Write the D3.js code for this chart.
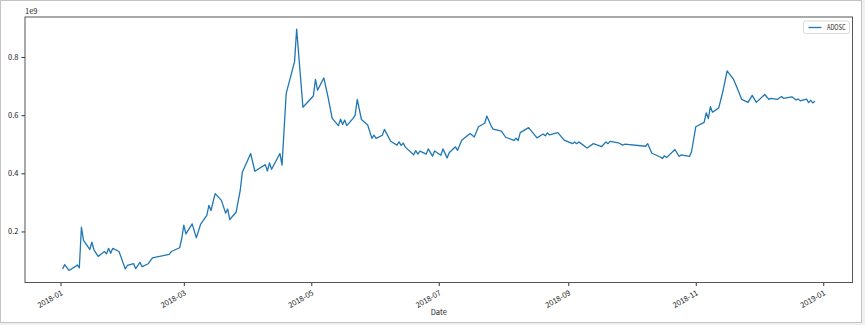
<!DOCTYPE html>
<meta charset="utf-8" />
<style>
  body {
    margin: 0px;
    padding: 0px;
    background: #f0f0f0;
  }
  svg {
    display: block;
  }
  .tick text,
  .lbl {
    font-family: "Noto Sans CJK SC", "DejaVu Sans", sans-serif;
    font-size: 7.5px;
    fill: #222;
  }
</style>

<svg width="865" height="325"></svg>

<script src="https://d3js.org/d3.v7.min.js"></script>
<script>
  // trading days
  const dates = [
    "2018-01-02", "2018-01-03", "2018-01-05", "2018-01-08", "2018-01-09", "2018-01-10", "2018-01-11", "2018-01-12",
    "2018-01-15", "2018-01-16", "2018-01-17", "2018-01-19", "2018-01-22", "2018-01-23", "2018-01-24", "2018-01-25",
    "2018-01-26", "2018-01-29", "2018-01-30", "2018-02-01", "2018-02-02", "2018-02-05", "2018-02-06", "2018-02-08",
    "2018-02-09", "2018-02-12", "2018-02-14", "2018-02-22", "2018-02-23", "2018-02-27", "2018-02-28", "2018-03-01",
    "2018-03-02", "2018-03-05", "2018-03-07", "2018-03-09", "2018-03-12", "2018-03-13", "2018-03-14", "2018-03-16",
    "2018-03-19", "2018-03-21", "2018-03-22", "2018-03-23", "2018-03-26", "2018-03-28", "2018-03-29", "2018-04-02",
    "2018-04-04", "2018-04-09", "2018-04-10", "2018-04-11", "2018-04-12", "2018-04-16", "2018-04-17", "2018-04-19",
    "2018-04-23", "2018-04-24", "2018-04-27", "2018-05-02", "2018-05-03", "2018-05-04", "2018-05-07", "2018-05-09",
    "2018-05-11", "2018-05-14", "2018-05-15", "2018-05-16", "2018-05-17", "2018-05-18", "2018-05-21", "2018-05-22",
    "2018-05-23", "2018-05-25", "2018-05-28", "2018-05-30", "2018-05-31", "2018-06-01", "2018-06-04", "2018-06-05",
    "2018-06-08", "2018-06-11", "2018-06-12", "2018-06-13", "2018-06-14", "2018-06-15", "2018-06-19", "2018-06-20",
    "2018-06-21", "2018-06-22", "2018-06-25", "2018-06-26", "2018-06-28", "2018-06-29", "2018-07-02", "2018-07-03",
    "2018-07-05", "2018-07-06", "2018-07-09", "2018-07-10", "2018-07-12", "2018-07-16", "2018-07-18", "2018-07-20",
    "2018-07-23", "2018-07-24", "2018-07-26", "2018-07-27", "2018-07-31", "2018-08-02", "2018-08-06", "2018-08-07",
    "2018-08-08", "2018-08-09", "2018-08-13", "2018-08-17", "2018-08-20", "2018-08-21", "2018-08-22", "2018-08-23",
    "2018-08-27", "2018-08-30", "2018-09-03", "2018-09-04", "2018-09-05", "2018-09-06", "2018-09-10", "2018-09-13",
    "2018-09-17", "2018-09-19", "2018-09-20", "2018-09-21", "2018-09-25", "2018-09-27", "2018-09-28", "2018-10-08",
    "2018-10-09", "2018-10-11", "2018-10-15", "2018-10-16", "2018-10-17", "2018-10-18", "2018-10-22", "2018-10-24",
    "2018-10-25", "2018-10-29", "2018-10-30", "2018-11-01", "2018-11-05", "2018-11-06", "2018-11-07", "2018-11-08",
    "2018-11-09", "2018-11-12", "2018-11-14", "2018-11-16", "2018-11-19", "2018-11-21", "2018-11-23", "2018-11-26",
    "2018-11-28", "2018-11-30", "2018-12-04", "2018-12-06", "2018-12-07", "2018-12-10", "2018-12-12", "2018-12-13",
    "2018-12-17", "2018-12-19", "2018-12-20", "2018-12-21", "2018-12-24", "2018-12-25", "2018-12-26", "2018-12-27",
    "2018-12-28"
  ];

  // ADOSC, in units of 1e9
  const adosc = [
    0.071, 0.086, 0.066, 0.079, 0.085, 0.075, 0.215, 0.169,
    0.138, 0.163, 0.137, 0.114, 0.131, 0.123, 0.142, 0.125,
    0.142, 0.131, 0.111, 0.071, 0.083, 0.089, 0.072, 0.094,
    0.079, 0.089, 0.109, 0.121, 0.131, 0.144, 0.175, 0.222,
    0.192, 0.226, 0.178, 0.224, 0.255, 0.29, 0.272, 0.33,
    0.307, 0.263, 0.277, 0.241, 0.266, 0.341, 0.404, 0.468,
    0.407, 0.43, 0.408, 0.436, 0.414, 0.468, 0.428, 0.675,
    0.784, 0.896, 0.627, 0.666, 0.723, 0.686, 0.728, 0.663,
    0.589, 0.564, 0.586, 0.568, 0.583, 0.564, 0.589, 0.6,
    0.654, 0.585, 0.566, 0.52, 0.531, 0.52, 0.531, 0.551,
    0.51, 0.497, 0.508, 0.496, 0.504, 0.49, 0.464, 0.478,
    0.466, 0.476, 0.466, 0.484, 0.459, 0.477, 0.462, 0.484,
    0.453, 0.471, 0.491, 0.479, 0.514, 0.537, 0.525, 0.56,
    0.572, 0.597, 0.564, 0.552, 0.545, 0.524, 0.513, 0.521,
    0.513, 0.54, 0.557, 0.522, 0.535, 0.529, 0.539, 0.532,
    0.54, 0.514, 0.502, 0.508, 0.502, 0.508, 0.487, 0.502,
    0.492, 0.508, 0.502, 0.51, 0.505, 0.497, 0.5, 0.493,
    0.502, 0.469, 0.456, 0.451, 0.46, 0.454, 0.482, 0.458,
    0.463, 0.458, 0.475, 0.56, 0.575, 0.608, 0.588, 0.629,
    0.61, 0.625, 0.683, 0.752, 0.724, 0.69, 0.654, 0.644,
    0.668, 0.644, 0.671, 0.654, 0.658, 0.654, 0.664, 0.658,
    0.663, 0.652, 0.656, 0.649, 0.655, 0.643, 0.651, 0.642,
    0.648
  ];

  const yTicks = [0.2, 0.4, 0.6, 0.8];
  const seriesName = "ADOSC";

  const svg = d3.select("svg"),
    width = +svg.attr("width"),
    height = +svg.attr("height");

  const margin = { top: 17, right: 12.5, bottom: 42.5, left: 25 };
  const innerW = width - margin.left - margin.right,
    innerH = height - margin.top - margin.bottom;

  const parse = d3.utcParse("%Y-%m-%d");
  const data = dates.map((d, i) => ({ date: parse(d), value: adosc[i] }));

  // figure background + border like the screenshot
  svg.append("rect").attr("x", 0.5).attr("y", 0.5).attr("width", 861).attr("height", 322)
    .attr("fill", "#fff").attr("stroke", "#c4c4c4");

  // matplotlib style 5% margins
  const [t0, t1] = d3.extent(data, (d) => d.date);
  const padT = (t1 - t0) * 0.05;
  const [v0, v1] = d3.extent(data, (d) => d.value);
  const padV = (v1 - v0) * 0.05;

  const x = d3.scaleUtc().domain([new Date(+t0 - padT), new Date(+t1 + padT)]).range([0, innerW]);
  const y = d3.scaleLinear().domain([v0 - padV, v1 + padV]).range([innerH, 0]);

  const g = svg.append("g").attr("transform", `translate(${margin.left},${margin.top})`);

  const xAxis = g.append("g")
    .attr("transform", `translate(0,${innerH})`)
    .call(d3.axisBottom(x).ticks(d3.utcMonth.every(2)).tickFormat(d3.utcFormat("%Y-%m")).tickSize(3.5).tickPadding(2));
  xAxis.select(".domain").remove();
  xAxis.selectAll(".tick line").attr("stroke", "#333");
  xAxis.selectAll(".tick text")
    .attr("text-anchor", "end")
    .attr("y", 0)
    .attr("dy", "0.75em")
    .attr("transform", "translate(-0.5,7) rotate(-30)");

  const yAxis = g.append("g")
    .call(d3.axisLeft(y).tickValues(yTicks).tickFormat(d3.format(".1f")).tickSize(3.5).tickPadding(3));
  yAxis.select(".domain").remove();
  yAxis.selectAll(".tick line").attr("stroke", "#333");

  // frame
  g.append("rect").attr("width", innerW).attr("height", innerH)
    .attr("fill", "none").attr("stroke", "#555").attr("stroke-width", 1);

  const line = d3.line().x((d) => x(d.date)).y((d) => y(d.value));
  g.append("path").datum(data)
    .attr("fill", "none")
    .attr("stroke", "#1f77b4")
    .attr("stroke-width", 1.3)
    .attr("stroke-linejoin", "round")
    .attr("d", line);

  // offset text and x label
  g.append("text").attr("class", "lbl").attr("x", 0).attr("y", -3).text("1e9");
  g.append("text").attr("class", "lbl").attr("x", innerW / 2).attr("y", innerH + 32)
    .attr("text-anchor", "middle").text("Date");

  // legend
  const leg = g.append("g").attr("transform", `translate(${innerW - 49},4)`);
  leg.append("rect").attr("width", 46).attr("height", 12.5).attr("rx", 2)
    .attr("fill", "#fff").attr("stroke", "#d0d0d0").attr("stroke-width", 0.8);
  leg.append("line").attr("x1", 5).attr("x2", 18).attr("y1", 6.5).attr("y2", 6.5)
    .attr("stroke", "#1f77b4").attr("stroke-width", 1.3);
  leg.append("text").attr("class", "lbl").attr("x", 23.5).attr("y", 9)
    .attr("textLength", 18.5).attr("lengthAdjust", "spacingAndGlyphs").text(seriesName);
</script>
